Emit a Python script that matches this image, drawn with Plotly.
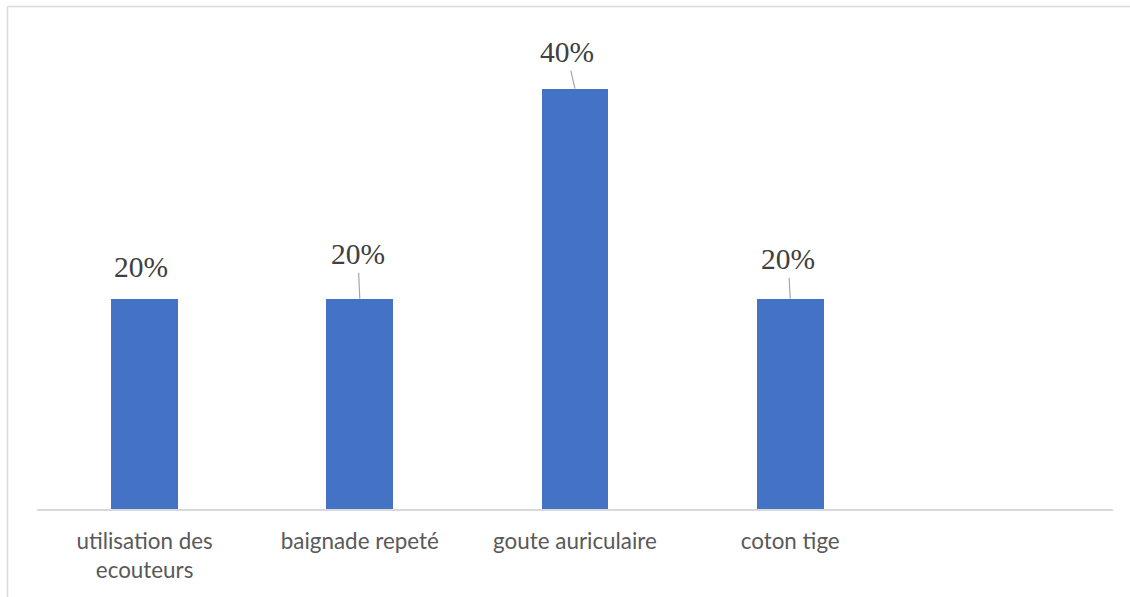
import plotly.graph_objects as go

categories = ["utilisation des<br>ecouteurs", "baignade repeté", "goute auriculaire", "coton tige"]
values = [0.20, 0.20, 0.40, 0.20]
value_labels = ["20%", "20%", "40%", "20%"]

# label offsets (pixels) of each data label relative to its bar top
label_dx = [-4, -2, -8.5, -2]
label_dy = [-31.5, -44.5, -36.5, -39.5]
show_leader = [False, True, True, True]

xpos = list(range(len(categories)))

fig = go.Figure()
fig.add_trace(go.Bar(
    x=xpos, y=values, width=0.311,
    marker=dict(color="#4472C4", line=dict(width=0)),
    hoverinfo="skip",
))

annotations = []
for i, (v, t) in enumerate(zip(values, value_labels)):
    annotations.append(dict(
        x=xpos[i], y=v, xref="x", yref="y",
        text=t, showarrow=True, arrowhead=0, arrowwidth=1.2,
        arrowcolor="#a6a6a6" if show_leader[i] else "rgba(0,0,0,0)",
        ax=label_dx[i], ay=label_dy[i], borderpad=2,
        font=dict(family="Liberation Serif", size=29.5, color="#404040"),
    ))

# chart border (top and left visible)
shapes = [
    dict(type="line", xref="paper", yref="paper", x0=(7.5 - 37) / 1076, x1=1.03,
         y0=(509 - 6.5) / 473, y1=(509 - 6.5) / 473, line=dict(color="#d9d9d9", width=1.5)),
    dict(type="line", xref="paper", yref="paper", x0=(7.5 - 37) / 1076, x1=(7.5 - 37) / 1076,
         y0=(509 - 6.5) / 473, y1=-0.2, line=dict(color="#d9d9d9", width=1.5)),
]

fig.update_layout(
    width=1130, height=597,
    margin=dict(l=37, r=17, t=36, b=88),
    paper_bgcolor="white", plot_bgcolor="white",
    showlegend=False, bargap=0,
    annotations=annotations, shapes=shapes,
    hovermode=False,
    xaxis=dict(
        range=[-0.5, 4.5], tickmode="array", tickvals=xpos, ticktext=categories,
        showline=True, linecolor="#d9d9d9", linewidth=1.5, showgrid=False, zeroline=False,
        ticks="", ticklabelstandoff=11, automargin=False,
        tickfont=dict(family="Lato", size=22.4, color="#595959"),
    ),
    yaxis=dict(range=[0, 0.45], visible=False, showgrid=False, zeroline=False, automargin=False),
)

fig.write_html("out.html", config={"displayModeBar": False},
               post_script="document.body.style.margin='0px';document.body.style.overflow='hidden';")
